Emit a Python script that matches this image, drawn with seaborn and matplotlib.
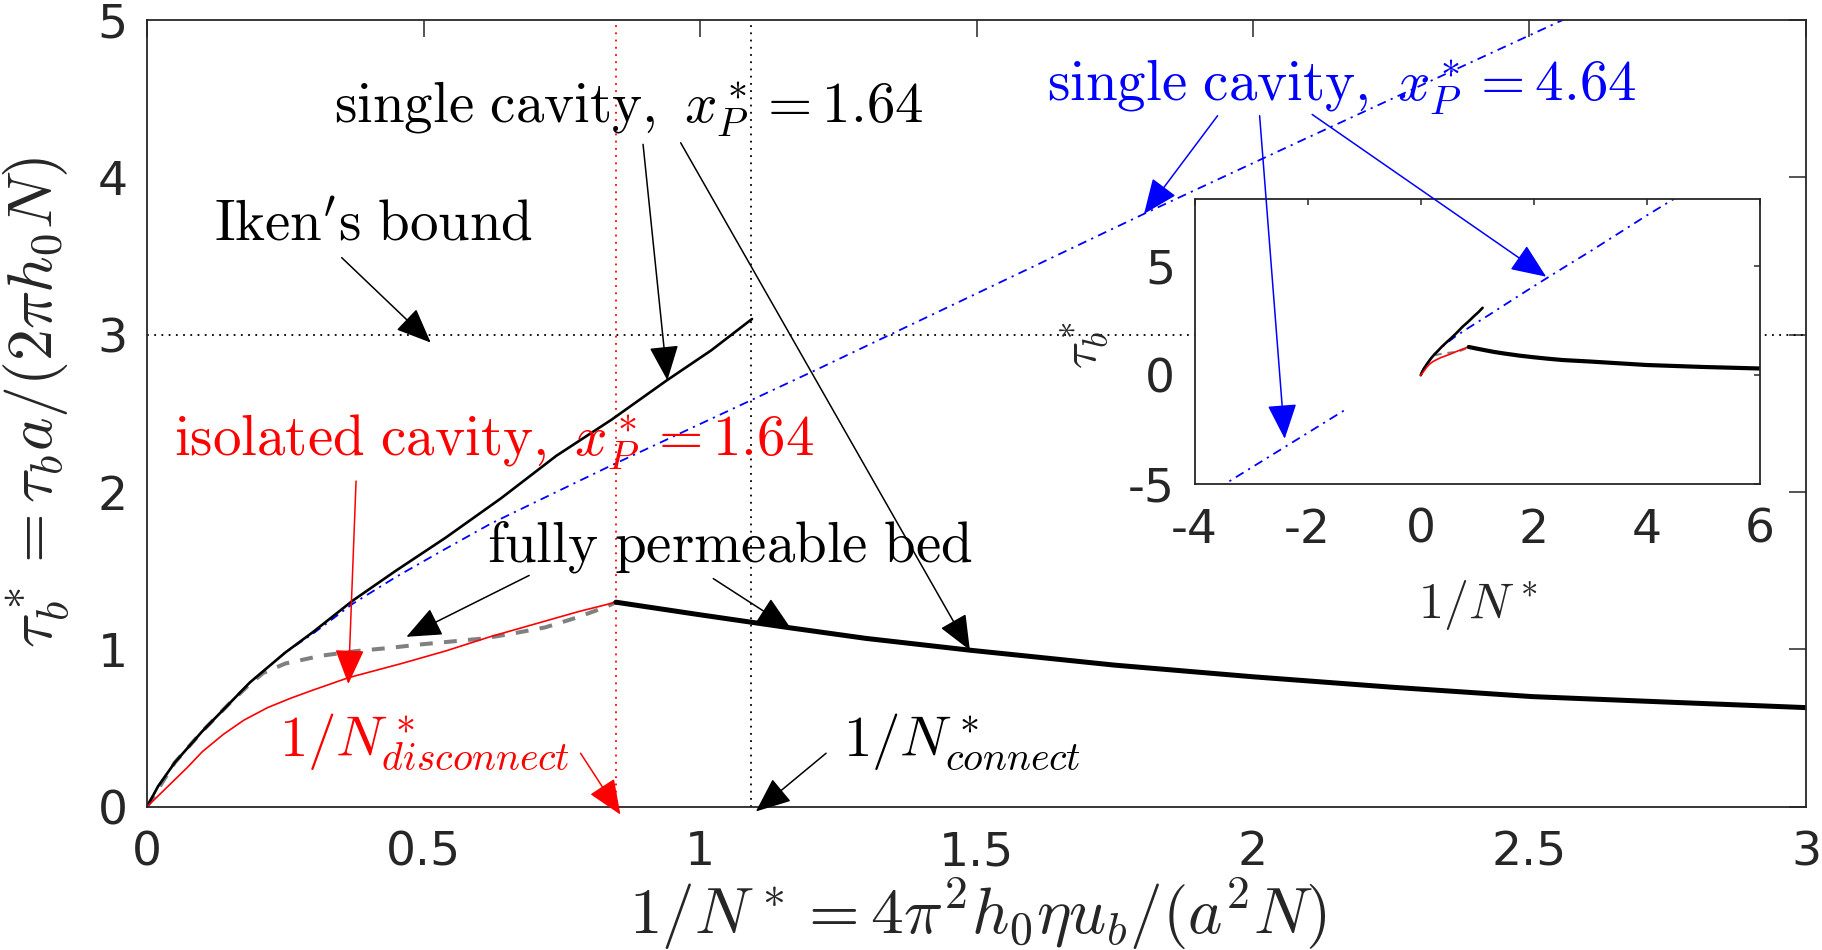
import numpy as np
import pandas as pd
import matplotlib
matplotlib.use("Agg")
import matplotlib.pyplot as plt
import seaborn as sns

# ---------------- data ----------------
# single cavity, x_P* = 1.64 (black solid)
sc164_x = [0, 0.02, 0.05, 0.10, 0.15, 0.186, 0.25, 0.30, 0.372, 0.45, 0.54, 0.64, 0.74, 0.84, 0.94, 1.02, 1.094]
sc164_y = [0, 0.13, 0.28, 0.48, 0.66, 0.79, 0.98, 1.11, 1.31, 1.50, 1.71, 1.96, 2.23, 2.46, 2.71, 2.90, 3.10]

# single cavity, x_P* = 4.64 (blue dash-dot), positive branch
sc464_x = [0, 0.02, 0.05, 0.10, 0.15, 0.186, 0.25, 0.30, 0.372, 0.45, 0.53, 0.622, 0.84, 1.206, 1.804, 2.085, 2.56, 3.0, 4.0, 4.6]
sc464_y = [0, 0.13, 0.28, 0.48, 0.66, 0.79, 0.98, 1.10, 1.29, 1.46, 1.62, 1.80, 2.17, 2.77, 3.77, 4.23, 5.0, 5.70, 7.35, 8.30]
# negative branch (visible in inset only)
sc464n_x = [-3.60, -1.30]
sc464n_y = [-5.22, -1.53]

# fully permeable bed, disconnected part (grey dashed)
fpb_x = [0, 0.05, 0.10, 0.15, 0.186, 0.21, 0.25, 0.315, 0.38, 0.44, 0.49, 0.55, 0.61, 0.66, 0.72, 0.775, 0.83, 0.848]
fpb_y = [0, 0.28, 0.48, 0.66, 0.78, 0.85, 0.91, 0.96, 0.99, 1.01, 1.03, 1.05, 1.07, 1.10, 1.14, 1.20, 1.27, 1.30]

# fully permeable bed, connected part (thick black)
con_x = [0.848, 1.0, 1.157, 1.3, 1.488, 1.75, 2.0, 2.25, 2.505, 2.75, 3.0, 3.5, 4.0, 5.0, 6.0]
con_y = [1.30, 1.22, 1.14, 1.07, 0.995, 0.90, 0.826, 0.76, 0.70, 0.665, 0.63, 0.55, 0.47, 0.38, 0.31]

# isolated cavity, x_P* = 1.64 (red)
iso_x = [0, 0.035, 0.073, 0.10, 0.138, 0.175, 0.218, 0.26, 0.299, 0.364, 0.46, 0.54, 0.62, 0.70, 0.78, 0.848]
iso_y = [0, 0.12, 0.25, 0.35, 0.46, 0.55, 0.63, 0.69, 0.74, 0.82, 0.91, 0.99, 1.08, 1.16, 1.24, 1.30]

iken_bound = 3.0
inv_N_disconnect = 0.848
inv_N_connect = 1.093

main_xticks = [0, 0.5, 1, 1.5, 2, 2.5, 3]
main_xticklabels = ["0", "0.5", "1", "1.5", "2", "2.5", "3"]
main_yticks = [0, 1, 2, 3, 4, 5]
inset_xticks = [-4, -2, 0, 2, 4, 6]
inset_yticks = [-5, 0, 5]

# ---------------- style ----------------
sns.set_theme(style="white")
plt.rcParams['font.family'] = ['DejaVu Sans']
plt.rcParams['mathtext.fontset'] = 'cm'
plt.rcParams['axes.unicode_minus'] = False

DARK = '#262626'
fig = plt.figure(figsize=(18.22, 9.5), dpi=100)
ax = fig.add_axes([0.0807, 0.1508, 0.9105, 0.8281])
axi = fig.add_axes([0.6556, 0.4905, 0.3104, 0.300])

def draw_curves(a, thick):
    sns.lineplot(x=fpb_x, y=fpb_y, ax=a, color='#808080', lw=2.9 if thick else 1.5,
                 linestyle=(0, (3.2, 2.8)), sort=False, estimator=None)
    sns.lineplot(x=sc464_x, y=sc464_y, ax=a, color='blue', lw=1.3,
                 linestyle=(0, (5, 3, 1.2, 3)), sort=False, estimator=None)
    sns.lineplot(x=sc464n_x, y=sc464n_y, ax=a, color='blue', lw=1.3,
                 linestyle=(0, (5, 3, 1.2, 3)), sort=False, estimator=None)
    sns.lineplot(x=sc164_x, y=sc164_y, ax=a, color='black', lw=1.9,
                 sort=False, estimator=None)
    sns.lineplot(x=iso_x, y=iso_y, ax=a, color='red', lw=1.2,
                 sort=False, estimator=None)
    sns.lineplot(x=con_x, y=con_y, ax=a, color='black', lw=3.6 if thick else 3.0,
                 sort=False, estimator=None)

# reference lines
ax.axhline(iken_bound, color='black', lw=1.3, linestyle=(0, (1, 3)), zorder=1)
ax.axvline(inv_N_disconnect, color='red', lw=1.3, linestyle=(0, (1, 3)), zorder=1)
ax.axvline(inv_N_connect, color='black', lw=1.3, linestyle=(0, (1, 3)), zorder=1)

draw_curves(ax, True)
draw_curves(axi, False)

for a, tl in ((ax, 12), (axi, 4.5)):
    for s in a.spines.values():
        s.set_visible(True)
        s.set_color(DARK)
        s.set_linewidth(1.3)
    a.tick_params(direction='in', length=tl, width=1.1, color=DARK,
                  top=True, right=True, labelsize=34, labelcolor=DARK)
    a.set_facecolor('white')

ax.set_xlim(0, 3)
ax.set_ylim(0, 5)
ax.set_xticks(main_xticks)
ax.set_xticklabels(main_xticklabels)
ax.set_yticks(main_yticks)
ax.set_yticklabels([str(v) for v in main_yticks])
ax.tick_params(axis='x', pad=17)
ax.tick_params(axis='y', pad=14)

axi.set_xlim(-4, 6)
axi.set_ylim(-5, 8.1)
axi.set_xticks(inset_xticks)
axi.set_xticklabels([str(v) for v in inset_xticks])
axi.set_yticks(inset_yticks)
axi.set_yticklabels([str(v) for v in inset_yticks])
axi.tick_params(axis='x', pad=17)
axi.tick_params(axis='y', pad=14)

ax.set_xlabel(r"$1/N^* = 4\pi^2 h_0 \eta u_b/(a^2 N)$", fontsize=47, color=DARK)
ax.set_ylabel(r"$\tau_b^* = \tau_b a/(2\pi h_0 N)$", fontsize=46, color=DARK)
ax.xaxis.set_label_coords(0.501, -0.087)
ax.yaxis.set_label_coords(-0.045, 0.514)
axi.set_xlabel(r"$1/N^*$", fontsize=36, color=DARK)
axi.set_ylabel(r"$\tau_b^*$", fontsize=36, color=DARK)
axi.xaxis.set_label_coords(0.501, -0.33)
axi.yaxis.set_label_coords(-0.145, 0.488)

# ---------------- annotations ----------------
TS = 41
ax.text(0.121, 3.598, r"$\mathrm{Iken}'\mathrm{s\ bound}$", fontsize=TS, color='black', va='baseline')
ax.text(0.339, 4.349, r"$\mathrm{single\ cavity,}\ x_P^* = 1.64$", fontsize=TS, color='black', va='baseline')
ax.text(1.627, 4.487, r"$\mathrm{single\ cavity,}\ x_P^* = 4.64$", fontsize=TS, color='blue', va='baseline')
ax.text(0.049, 2.233, r"$\mathrm{isolated\ cavity,}\ x_P^* = 1.64$", fontsize=TS, color='red', va='baseline')
ax.text(0.615, 1.560, r"$\mathrm{fully\ permeable\ bed}$", fontsize=TS, color='black', va='baseline')
ax.text(0.239, 0.329, r"$1/N^*_{disconnect}$", fontsize=TS, color='red', va='baseline')
ax.text(1.259, 0.329, r"$1/N^*_{connect}$", fontsize=TS, color='black', va='baseline')

def arrow(axis, start, end, color, start_coords='data'):
    axis.annotate('', xy=end, xycoords='data', xytext=start, textcoords=start_coords,
                  arrowprops=dict(arrowstyle='-|>,head_length=1.0,head_width=0.42',
                                  color=color, lw=1.1, shrinkA=0, shrinkB=0,
                                  mutation_scale=22),
                  annotation_clip=False)

arrow(ax, (0.352, 3.49), (0.513, 2.95), 'black')
arrow(ax, (0.897, 4.21), (0.941, 2.71), 'black')
arrow(ax, (0.965, 4.22), (1.488, 0.995), 'black')
arrow(ax, (0.378, 2.07), (0.364, 0.78), 'red')
arrow(ax, (0.691, 1.47), (0.469, 1.08), 'black')
arrow(ax, (1.024, 1.45), (1.165, 1.13), 'black')
arrow(ax, (0.784, 0.34), (0.856, -0.05), 'red')
arrow(ax, (1.228, 0.34), (1.101, -0.03), 'black')
arrow(ax, (1.936, 4.392), (1.803, 3.768), 'blue')
arrow(axi, (2.012, 4.392), (-2.405, -2.92), 'blue', start_coords=ax.transData)
arrow(axi, (2.107, 4.40), (2.218, 4.53), 'blue', start_coords=ax.transData)

fig.savefig("out.png", dpi=100, facecolor='white')
